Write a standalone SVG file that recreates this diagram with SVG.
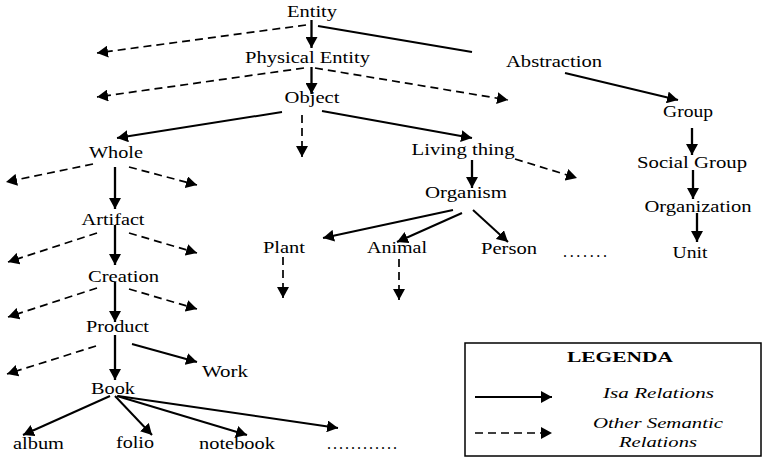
<svg xmlns="http://www.w3.org/2000/svg" width="763" height="458" viewBox="0 0 763 458">
<style>
.s{stroke:#000;stroke-width:2;fill:none;marker-end:url(#ah)}
.v{stroke-width:2.3}
.p{stroke:#000;stroke-width:2;fill:none}
.d{stroke:#000;stroke-width:1.7;fill:none;stroke-dasharray:8 5;marker-end:url(#ah)}
</style>
<defs>
<marker id="ah" markerUnits="userSpaceOnUse" viewBox="0 0 11 12" refX="11" refY="6" markerWidth="11" markerHeight="12" orient="auto">
<path d="M0,0 L11,6 L0,12 z" fill="#000"/>
</marker>
</defs>
<g id="connectors">
<line class="s v" x1="311.5" y1="20" x2="311.5" y2="48"/>
<line class="d" x1="306" y1="25" x2="97" y2="53"/>
<line class="p" x1="318" y1="26" x2="472" y2="52"/>
<line class="s v" x1="311.5" y1="67" x2="311.5" y2="94"/>
<line class="d" x1="304" y1="68" x2="97" y2="97"/>
<line class="d" x1="315" y1="68" x2="508" y2="100"/>
<line class="s" x1="282" y1="112" x2="117" y2="138"/>
<line class="d" x1="302" y1="115" x2="302" y2="157"/>
<line class="s" x1="322" y1="111" x2="472" y2="138"/>
<line class="d" x1="93" y1="164" x2="6" y2="182"/>
<line class="d" x1="129" y1="167" x2="197" y2="185"/>
<line class="s v" x1="115" y1="167" x2="115" y2="209"/>
<line class="s" x1="565" y1="73" x2="678" y2="100"/>
<line class="s v" x1="692" y1="128" x2="692" y2="155"/>
<line class="s v" x1="693" y1="170" x2="693" y2="199"/>
<line class="s v" x1="697" y1="213" x2="697" y2="242"/>
<line class="s v" x1="472" y1="160" x2="472" y2="188"/>
<line class="d" x1="515" y1="159" x2="577" y2="178"/>
<line class="d" x1="97" y1="233" x2="8" y2="262"/>
<line class="d" x1="129" y1="233" x2="197" y2="253"/>
<line class="s v" x1="115" y1="225" x2="115" y2="265"/>
<line class="d" x1="97" y1="288" x2="8" y2="317"/>
<line class="d" x1="129" y1="289" x2="197" y2="309"/>
<line class="s v" x1="115" y1="282" x2="115" y2="322"/>
<line class="d" x1="96" y1="346" x2="7" y2="374"/>
<line class="s" x1="132" y1="344" x2="197" y2="362"/>
<line class="s v" x1="115" y1="335" x2="115" y2="380"/>
<line class="s" x1="110" y1="396" x2="23" y2="435"/>
<line class="s" x1="115" y1="396" x2="152" y2="435"/>
<line class="s" x1="117" y1="396" x2="247" y2="435"/>
<line class="s" x1="118" y1="396" x2="338" y2="428"/>
<line class="s" x1="453" y1="210" x2="323" y2="238"/>
<line class="s" x1="462" y1="213" x2="397" y2="242"/>
<line class="s" x1="473" y1="210" x2="508" y2="242"/>
<line class="d" x1="283" y1="257" x2="283" y2="298"/>
<line class="d" x1="399" y1="259" x2="399" y2="300"/>
</g>
<g font-family="Liberation Serif" font-size="16" fill="#000" text-anchor="middle">
<g id="entity"><text x="312" y="17" textLength="50" lengthAdjust="spacingAndGlyphs">Entity</text></g>
<g id="physical-entity"><text x="307.5" y="63" textLength="125" lengthAdjust="spacingAndGlyphs">Physical Entity</text></g>
<g id="object"><text x="312" y="103" textLength="55" lengthAdjust="spacingAndGlyphs">Object</text></g>
<g id="whole"><text x="116" y="158" textLength="54" lengthAdjust="spacingAndGlyphs">Whole</text></g>
<g id="abstraction"><text x="554" y="67" textLength="96" lengthAdjust="spacingAndGlyphs">Abstraction</text></g>
<g id="group"><text x="688" y="117" textLength="50" lengthAdjust="spacingAndGlyphs">Group</text></g>
<g id="living-thing"><text x="463" y="155" textLength="103" lengthAdjust="spacingAndGlyphs">Living thing</text></g>
<g id="social-group"><text x="692" y="168" textLength="110" lengthAdjust="spacingAndGlyphs">Social Group</text></g>
<g id="organism"><text x="466" y="198" textLength="82" lengthAdjust="spacingAndGlyphs">Organism</text></g>
<g id="organization"><text x="698" y="212" textLength="107" lengthAdjust="spacingAndGlyphs">Organization</text></g>
<g id="unit"><text x="690" y="258" textLength="35" lengthAdjust="spacingAndGlyphs">Unit</text></g>
<g id="plant"><text x="284" y="253" textLength="42" lengthAdjust="spacingAndGlyphs">Plant</text></g>
<g id="animal"><text x="397" y="253" textLength="60" lengthAdjust="spacingAndGlyphs">Animal</text></g>
<g id="person"><text x="509" y="254" textLength="56" lengthAdjust="spacingAndGlyphs">Person</text></g>
<g id="more-organisms"><text text-anchor="start" x="563" y="257" textLength="44" lengthAdjust="spacing">.......</text></g>
<g id="artifact"><text x="113" y="225" textLength="63" lengthAdjust="spacingAndGlyphs">Artifact</text></g>
<g id="creation"><text x="123.5" y="282" textLength="71" lengthAdjust="spacingAndGlyphs">Creation</text></g>
<g id="product"><text x="117.5" y="332" textLength="63" lengthAdjust="spacingAndGlyphs">Product</text></g>
<g id="work"><text x="225" y="377" textLength="46" lengthAdjust="spacingAndGlyphs">Work</text></g>
<g id="book"><text x="113" y="394" textLength="44" lengthAdjust="spacingAndGlyphs">Book</text></g>
<g id="album"><text x="38.5" y="449" textLength="51" lengthAdjust="spacingAndGlyphs">album</text></g>
<g id="folio"><text x="135" y="448" textLength="38" lengthAdjust="spacingAndGlyphs">folio</text></g>
<g id="notebook"><text x="237" y="449" textLength="76" lengthAdjust="spacingAndGlyphs">notebook</text></g>
<g id="more-books"><text text-anchor="start" x="327" y="449" textLength="70" lengthAdjust="spacing">............</text></g>
<g id="legend">
<rect x="465" y="343" width="296" height="113" fill="none" stroke="#000" stroke-width="1.5"/>
<text font-weight="bold" font-size="15" x="620" y="362" textLength="106" lengthAdjust="spacingAndGlyphs">LEGENDA</text>
<line class="s" x1="475" y1="397" x2="552" y2="397"/>
<text font-style="italic" font-size="14" x="658.5" y="398" textLength="111" lengthAdjust="spacingAndGlyphs">Isa Relations</text>
<line class="d" x1="475" y1="433" x2="552" y2="433"/>
<text font-style="italic" font-size="14" x="658" y="428" textLength="130" lengthAdjust="spacingAndGlyphs">Other Semantic</text>
<text font-style="italic" font-size="14" x="658" y="447" textLength="78" lengthAdjust="spacingAndGlyphs">Relations</text>
</g>
</g>
</svg>
